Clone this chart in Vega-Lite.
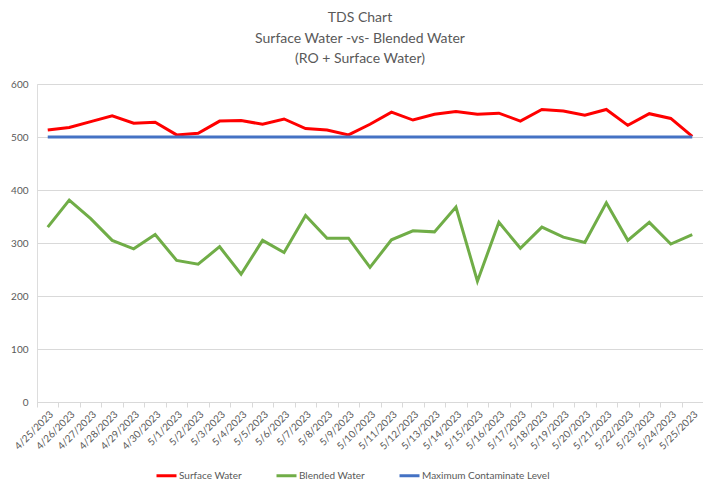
{
  "$schema": "https://vega.github.io/schema/vega-lite/v6.json",
  "width": 666,
  "height": 318,
  "autosize": {"type": "none"},
  "padding": {"left": 37, "top": 84, "right": 0, "bottom": 85},
  "background": "white",
  "title": {
    "text": ["TDS Chart", "Surface Water -vs- Blended Water", "(RO + Surface Water)"],
    "font": "Lato",
    "fontSize": 14,
    "fontWeight": "normal",
    "color": "#595959",
    "lineHeight": 20.5,
    "offset": 13,
    "anchor": "middle",
    "dx": -10
  },
  "datasets": {
    "tds": [
      {"date": "4/25/2023", "sw": 513, "bw": 330},
      {"date": "4/26/2023", "sw": 518, "bw": 381},
      {"date": "4/27/2023", "sw": 529, "bw": 346},
      {"date": "4/28/2023", "sw": 540, "bw": 305},
      {"date": "4/29/2023", "sw": 526, "bw": 289},
      {"date": "4/30/2023", "sw": 528, "bw": 316},
      {"date": "5/1/2023", "sw": 504, "bw": 267},
      {"date": "5/2/2023", "sw": 507, "bw": 260},
      {"date": "5/3/2023", "sw": 530, "bw": 293},
      {"date": "5/4/2023", "sw": 531, "bw": 241},
      {"date": "5/5/2023", "sw": 524, "bw": 305},
      {"date": "5/6/2023", "sw": 534, "bw": 282},
      {"date": "5/7/2023", "sw": 516, "bw": 352},
      {"date": "5/8/2023", "sw": 513, "bw": 309},
      {"date": "5/9/2023", "sw": 504, "bw": 309},
      {"date": "5/10/2023", "sw": 524, "bw": 254},
      {"date": "5/11/2023", "sw": 547, "bw": 306},
      {"date": "5/12/2023", "sw": 532, "bw": 323},
      {"date": "5/13/2023", "sw": 543, "bw": 321},
      {"date": "5/14/2023", "sw": 548, "bw": 368},
      {"date": "5/15/2023", "sw": 543, "bw": 228},
      {"date": "5/16/2023", "sw": 545, "bw": 339},
      {"date": "5/17/2023", "sw": 530, "bw": 290},
      {"date": "5/18/2023", "sw": 552, "bw": 330},
      {"date": "5/19/2023", "sw": 549, "bw": 311},
      {"date": "5/20/2023", "sw": 541, "bw": 301},
      {"date": "5/21/2023", "sw": 552, "bw": 376},
      {"date": "5/22/2023", "sw": 522, "bw": 305},
      {"date": "5/23/2023", "sw": 544, "bw": 339},
      {"date": "5/24/2023", "sw": 535, "bw": 298},
      {"date": "5/25/2023", "sw": 501, "bw": 316}
    ]
  },
  "data": {"name": "tds"},
  "transform": [
    {"calculate": "500", "as": "mcl"},
    {"fold": ["sw", "bw", "mcl"], "as": ["key", "value"]},
    {"calculate": "datum.key == 'sw' ? 'Surface Water' : datum.key == 'bw' ? 'Blended Water' : 'Maximum Contaminate Level'", "as": "series"}
  ],
  "mark": {"type": "line", "strokeWidth": 3, "strokeJoin": "miter"},
  "encoding": {
    "x": {
      "field": "date",
      "type": "ordinal",
      "sort": null,
      "bandPosition": 0.5,
      "scale": {"type": "band", "paddingInner": 0, "paddingOuter": 0},
      "axis": {
        "title": null,
        "labelAngle": -45,
        "labelFont": "Lato",
        "labelFontSize": 10,
        "labelColor": "#595959",
        "domainColor": "#D9D9D9",
        "tickColor": "#D9D9D9",
        "tickSize": 5,
        "tickBand": "extent",
        "labelPadding": 2,
        "grid": false
      }
    },
    "y": {
      "field": "value",
      "type": "quantitative",
      "scale": {"domain": [0, 600], "nice": false},
      "axis": {
        "title": null,
        "values": [0, 100, 200, 300, 400, 500, 600],
        "labelFont": "Lato",
        "labelFontSize": 10,
        "labelColor": "#595959",
        "domain": false,
        "ticks": false,
        "labelPadding": 9,
        "gridColor": "#D9D9D9",
        "gridWidth": 1
      }
    },
    "color": {
      "field": "series",
      "type": "nominal",
      "scale": {
        "domain": ["Surface Water", "Blended Water", "Maximum Contaminate Level"],
        "range": ["#FF0000", "#70AD47", "#4472C4"]
      },
      "legend": {
        "title": null,
        "orient": "none",
        "direction": "horizontal",
        "legendX": 118,
        "legendY": 380,
        "symbolType": "stroke",
        "symbolSize": 400,
        "symbolStrokeWidth": 3,
        "labelFont": "Lato",
        "labelFontSize": 10,
        "labelColor": "#595959",
        "labelOffset": 1,
        "columnPadding": 28
      }
    },
    "order": {"field": "series"}
  }
}
